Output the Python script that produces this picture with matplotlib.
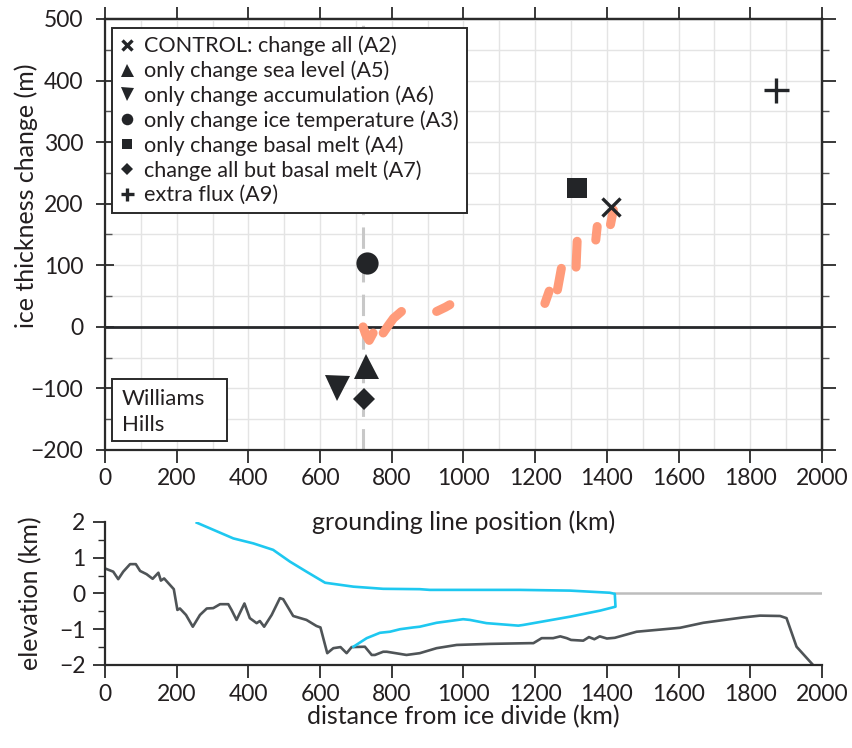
import matplotlib.pyplot as plt
from matplotlib.patches import Rectangle
from matplotlib.ticker import MultipleLocator

plt.rcParams['font.family'] = ['Lato', 'DejaVu Sans']

TXT = '#231f20'
MK = '#232528'
ORANGE = '#ff9b7a'
CYAN = '#1ec8f0'
BED = '#4f5457'

# --- top panel: model experiments ---
exp_labels = ['CONTROL: change all (A2)', 'only change sea level (A5)',
              'only change accumulation (A6)', 'only change ice temperature (A3)',
              'only change basal melt (A4)', 'change all but basal melt (A7)',
              'extra flux (A9)']
exp_x = [1411, 728, 647, 731, 1316, 722, 1871]
exp_y = [195, -63, -99, 104, 226, -117, 385]
exp_marker = ['x', '^', 'v', 'o', 's', 'D', '+']
exp_size = [13, 18, 18, 16, 15, 11, 18]

# orange grounding-line path segments
seg_x = [[720, 727, 737, 748], [776, 790, 805, 827], [925, 950, 962],
         [1227, 1239], [1262, 1273], [1314, 1317], [1369, 1373], [1410, 1418]]
seg_y = [[0, -12, -22, -10], [-10, 2, 14, 25], [25, 32, 36],
         [38, 58], [60, 95], [97, 139], [141, 163], [166, 190]]

divide_x = 720

# --- bottom panel: profile ---
bed_x = [0, 23, 37, 51, 70, 86, 98, 116, 133, 149, 156, 165, 192, 202, 209, 226,
         245, 265, 284, 302, 321, 344, 353, 367, 389, 404, 423, 432, 444, 465, 488,
         497, 525, 562, 590, 601, 620, 637, 657, 674, 688, 725, 744, 753, 776, 786,
         823, 841, 878, 925, 981, 1074, 1185, 1195, 1218, 1250, 1270, 1288, 1300,
         1334, 1350, 1365, 1380, 1400, 1422, 1483, 1604, 1669, 1780, 1827, 1883,
         1901, 1929, 1975]
bed_y = [0.70, 0.61, 0.40, 0.61, 0.82, 0.82, 0.63, 0.54, 0.41, 0.58, 0.36, 0.42,
         0.12, -0.46, -0.42, -0.60, -0.93, -0.60, -0.42, -0.41, -0.30, -0.30,
         -0.46, -0.74, -0.28, -0.69, -0.83, -0.77, -0.93, -0.60, -0.13, -0.16,
         -0.63, -0.74, -0.91, -0.95, -1.67, -1.53, -1.50, -1.67, -1.50, -1.49,
         -1.72, -1.72, -1.63, -1.63, -1.69, -1.72, -1.67, -1.53, -1.44, -1.41,
         -1.39, -1.39, -1.25, -1.25, -1.20, -1.25, -1.30, -1.32, -1.22, -1.28,
         -1.20, -1.26, -1.24, -1.07, -0.96, -0.82, -0.67, -0.62, -0.63, -0.69,
         -1.49, -2.0]

surf_x = [256, 358, 414, 469, 516, 562, 614, 693, 776, 878, 906, 1157, 1297,
          1408, 1422, 1424, 1381, 1297, 1167, 1153, 1064, 1018, 999, 925, 878,
          860, 823, 795, 767, 730, 693]
surf_y = [1.98, 1.54, 1.40, 1.22, 0.89, 0.61, 0.30, 0.19, 0.13, 0.12, 0.10,
          0.10, 0.08, 0.02, -0.01, -0.37, -0.48, -0.65, -0.88, -0.90, -0.83,
          -0.74, -0.72, -0.82, -0.93, -0.95, -1.00, -1.07, -1.10, -1.25, -1.49]

sea_x = [1422, 2000]
sea_y = [0, 0]

fig = plt.figure(figsize=(8.52, 7.48), dpi=100)
ax = fig.add_axes([0.1232, 0.3984, 0.8416, 0.5762])
ax2 = fig.add_axes([0.1232, 0.1110, 0.8416, 0.1912])
ax2.patch.set_visible(False)

# top panel
ax.set_xlim(0, 2000)
ax.set_ylim(-200, 500)
ax.xaxis.set_major_locator(MultipleLocator(200))
ax.xaxis.set_minor_locator(MultipleLocator(100))
ax.yaxis.set_major_locator(MultipleLocator(100))
ax.yaxis.set_minor_locator(MultipleLocator(50))
ax.grid(True, which='both', color='#e4e4e4', lw=1.0, zorder=0)
ax.set_axisbelow(True)

ax.axvline(divide_x, color='#c8c8c8', lw=2.2, dashes=(7, 4), zorder=1)
ax.axhline(0, color='#26282b', lw=2.0, zorder=2)

for sx, sy in zip(seg_x, seg_y):
    ax.plot(sx, sy, color=ORANGE, lw=6.5, solid_capstyle='round',
            solid_joinstyle='round', zorder=3)

handles = []
for x, y, m, s, lab in zip(exp_x, exp_y, exp_marker, exp_size, exp_labels):
    mew = 2.4 if m in ('x', '+') else 0
    h, = ax.plot([x], [y], ls='none', marker=m, ms=s, color=MK, mew=mew,
                 label=lab, zorder=4)
    handles.append(h)

leg = ax.legend(handles=handles, loc='upper left', bbox_to_anchor=(0.0098, 0.979),
                borderaxespad=0, fontsize=15.6, markerscale=0.52, handlelength=0.7,
                handletextpad=0.45, labelspacing=0.2, borderpad=0.35,
                fancybox=False, framealpha=1, edgecolor='#2a2a2a', labelcolor=TXT)
leg.get_frame().set_linewidth(1.4)

ax.add_patch(Rectangle((0.0098, 0.0209), 0.1604, 0.1439, transform=ax.transAxes,
                       facecolor='white', edgecolor='#2a2a2a', lw=1.4, zorder=5))
ax.text(0.0237, 0.088, 'Williams\nHills', transform=ax.transAxes, ha='left',
        va='center', fontsize=16, color=TXT, linespacing=1.4, zorder=6)

for sp in ax.spines.values():
    sp.set_linewidth(1.6)
    sp.set_color('#2a2a2a')
ax.tick_params(axis='both', which='major', labelsize=16.5, labelcolor=TXT,
               color='#2a2a2a', width=1.3)
ax.tick_params(axis='y', which='major', direction='inout', length=13, pad=9)
ax.tick_params(axis='y', which='minor', direction='in', length=5, width=1.0,
               color='#555555')
ax.tick_params(axis='x', which='major', direction='out', length=9, pad=4)
ax.tick_params(axis='x', which='minor', length=0)

sec_r = ax.secondary_yaxis('right')
sec_r.yaxis.set_major_locator(MultipleLocator(100))
sec_r.yaxis.set_minor_locator(MultipleLocator(50))
sec_r.tick_params(which='major', direction='out', length=10, width=1.3,
                  color='#2a2a2a', labelright=False)
sec_r.tick_params(which='minor', direction='out', length=5, width=1.0,
                  color='#555555')
sec_r.spines['right'].set_linewidth(1.6)
sec_t = ax.secondary_xaxis('top')
sec_t.xaxis.set_major_locator(MultipleLocator(200))
sec_t.xaxis.set_minor_locator(MultipleLocator(100))
sec_t.tick_params(which='major', direction='out', length=9, width=1.3,
                  color='#2a2a2a', labeltop=False)
sec_t.tick_params(which='minor', length=0)
sec_t.spines['top'].set_linewidth(1.6)

ax.set_xlabel('grounding line position (km)', fontsize=18, color=TXT)
ax.set_ylabel('ice thickness change (m)', fontsize=18, color=TXT)
ax.xaxis.set_label_coords(0.5, -0.14)
ax.yaxis.set_label_coords(-0.093, 0.59)

# bottom panel
ax2.plot(sea_x, sea_y, color='#bdbdbd', lw=1.8, zorder=1)
ax2.plot(bed_x, bed_y, color=BED, lw=1.9, zorder=2)
ax2.plot(surf_x, surf_y, color=CYAN, lw=1.9, zorder=3)
ax2.set_xlim(0, 2000)
ax2.set_ylim(-2, 2)
ax2.xaxis.set_major_locator(MultipleLocator(200))
ax2.yaxis.set_major_locator(MultipleLocator(1))
ax2.yaxis.set_minor_locator(MultipleLocator(0.5))
for side in ('top', 'right'):
    ax2.spines[side].set_visible(False)
for side in ('left', 'bottom'):
    ax2.spines[side].set_linewidth(1.6)
    ax2.spines[side].set_color('#2a2a2a')
ax2.tick_params(which='major', direction='out', length=9, width=1.3,
                labelsize=16.5, labelcolor=TXT, color='#2a2a2a', pad=5)
ax2.tick_params(which='minor', direction='out', length=5, width=1.0,
                color='#2a2a2a')
ax2.set_xlabel('distance from ice divide (km)', fontsize=18, color=TXT)
ax2.set_ylabel('elevation (km)', fontsize=18, color=TXT)
ax2.xaxis.set_label_coords(0.5, -0.278)
ax2.yaxis.set_label_coords(-0.088, 0.5)

fig.savefig('out.png', dpi=100)
